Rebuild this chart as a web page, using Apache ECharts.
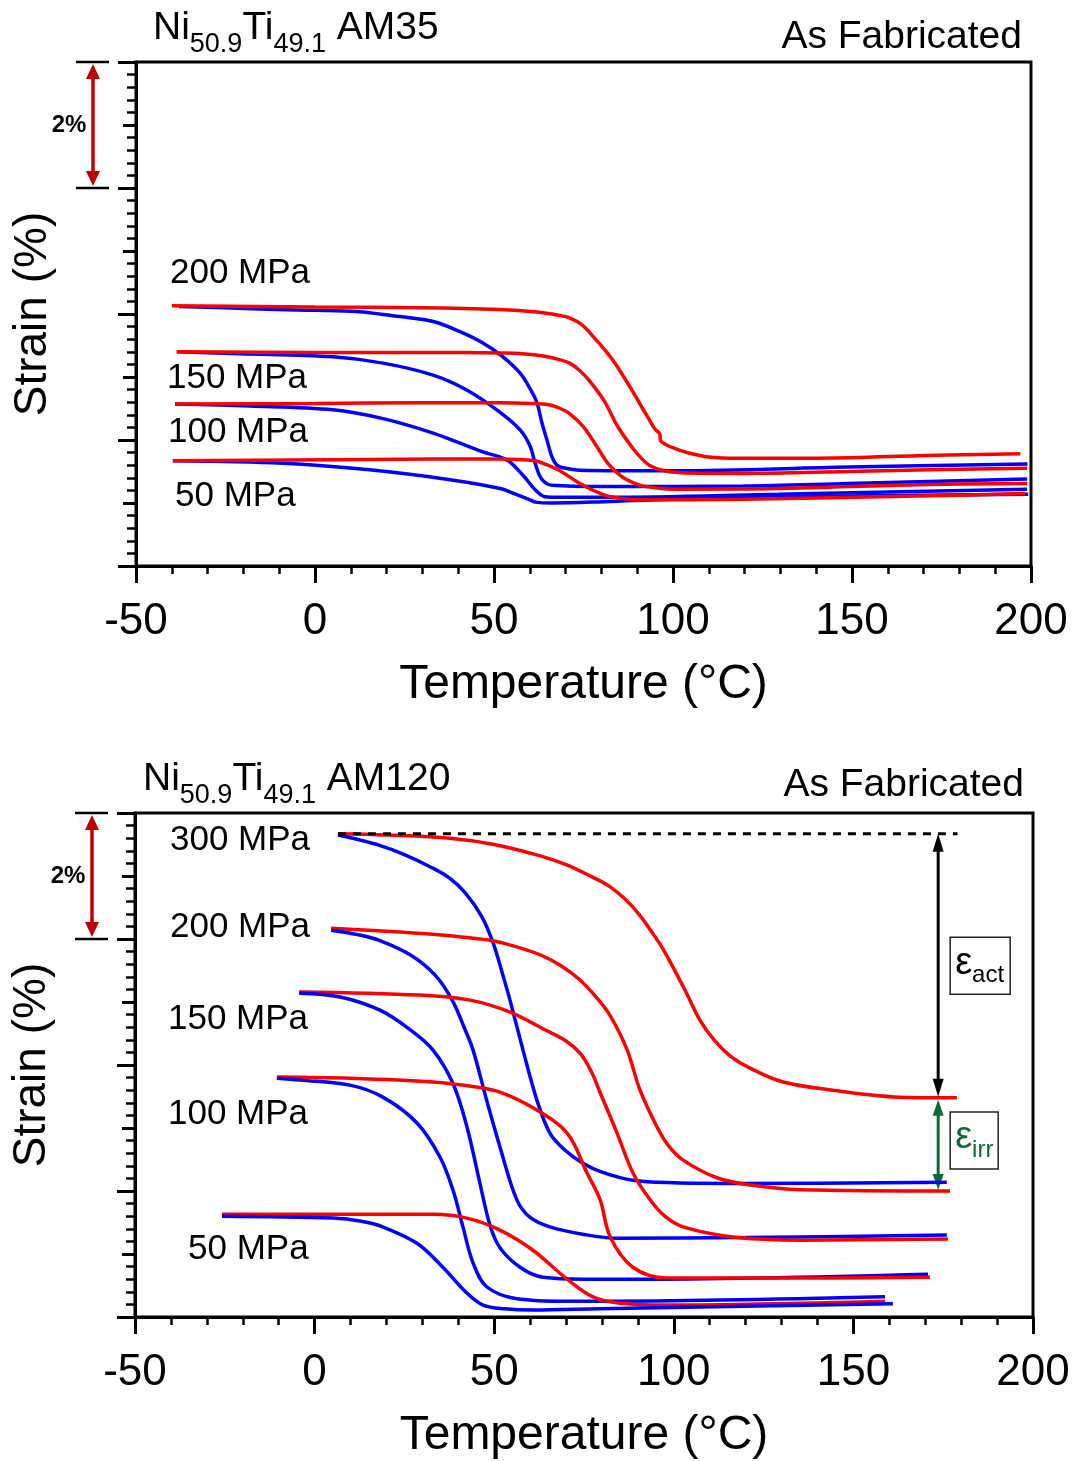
<!DOCTYPE html>
<html>
<head>
<meta charset="utf-8">
<script src="https://cdn.jsdelivr.net/npm/echarts@6/dist/echarts.min.js"></script>
<style>
  html, body { margin: 0; padding: 0; background: #fff; }
  #chart { width: 1078px; height: 1461px; }
</style>
</head>
<body>
<div id="chart"></div>
<script>
const FONT = '"Liberation Sans", Arial, sans-serif';

// Shared axis scales
const xTicks = [-50, 0, 50, 100, 150, 200];
const strainMax = 8;
const scaleBar = 2;            // % span of the scale bracket

// ---- Ni50.9Ti49.1 AM35: [temperature °C, strain %] ----
const am35Heat200 = [[-40,4.13],[0,4.11],[30,4.10],[51.7,4.07],[62,4.03],[68,3.98],[71.1,3.94],[74.5,3.83],[77.9,3.63],[80.8,3.44],[83.8,3.22],[86.7,2.96],[89.6,2.69],[91.5,2.50],[93.4,2.32],[95,2.17],[96.3,2.10],[96.5,1.99],[98,1.93],[100.3,1.87],[104,1.80],[110,1.73],[118,1.71],[129.3,1.71],[150,1.72],[168.2,1.75],[185,1.77],[197,1.78]];
const am35Cool200 = [[-38,4.12],[-25,4.10],[-10.6,4.07],[0,4.06],[11.7,4.04],[18,4.00],[23.7,3.96],[33,3.88],[40.5,3.72],[46.9,3.54],[52.5,3.32],[57.3,3.06],[60.3,2.79],[62,2.59],[63.4,2.27],[64.8,2.00],[66.2,1.73],[67.6,1.60],[69.3,1.56],[74,1.52],[100.3,1.51],[148.9,1.57],[199,1.62]];
const am35Heat150 = [[-38.6,3.40],[0,3.39],[30,3.39],[51.7,3.38],[58,3.37],[64.2,3.33],[68,3.28],[71.1,3.22],[74,3.10],[76.8,2.93],[80.7,2.63],[84.6,2.21],[88.5,1.89],[91,1.72],[93.4,1.60],[97,1.52],[102.2,1.48],[119.6,1.47],[148.9,1.50],[175,1.53],[198.9,1.55]];
const am35Cool150 = [[-38.6,3.40],[-20.9,3.37],[5,3.32],[19,3.22],[33,3.03],[42.5,2.79],[51.7,2.44],[57.3,2.16],[60.1,1.90],[61.5,1.63],[63.3,1.38],[66.2,1.28],[80.7,1.26],[119.6,1.27],[148.9,1.31],[198.9,1.38]];
const am35Heat100 = [[-39.1,2.57],[0,2.58],[30,2.59],[51.7,2.59],[60,2.58],[65.3,2.56],[68.5,2.50],[71.1,2.42],[75,2.21],[78.8,1.89],[81.8,1.63],[85.7,1.42],[89,1.32],[92.5,1.26],[100.3,1.22],[129.3,1.23],[168.2,1.29],[198.9,1.31]];
const am35Cool100 = [[-39.1,2.57],[-18.2,2.54],[5,2.48],[19,2.34],[33,2.11],[46.9,1.81],[51.7,1.73],[54.5,1.65],[58.4,1.42],[61.5,1.21],[64.2,1.10],[68,1.09],[80.7,1.09],[129.3,1.14],[198.9,1.22]];
const am35Heat50 = [[-39.7,1.67],[14.5,1.69],[51.7,1.70],[61.5,1.67],[65,1.60],[68.2,1.52],[74,1.31],[80.7,1.13],[85,1.08],[90.5,1.05],[119.6,1.06],[168.2,1.11],[198.3,1.15]];
const am35Cool50 = [[-39.7,1.67],[-8.9,1.63],[14.5,1.53],[37.7,1.37],[51.7,1.23],[56,1.14],[59.2,1.07],[62,1.01],[66,1.00],[80.7,1.02],[100.3,1.06],[148.9,1.11],[199.2,1.14]];

// ---- Ni50.9Ti49.1 AM120 ----
const am120Heat300 = [[6.5,7.67],[20,7.65],[37.7,7.60],[50,7.50],[62.8,7.32],[70,7.18],[77.1,6.99],[82,6.84],[86.5,6.63],[90.5,6.38],[94,6.10],[97.1,5.83],[103.1,5.19],[107.3,4.71],[111.5,4.38],[116,4.13],[121.2,3.95],[130.4,3.73],[144.3,3.60],[163,3.49],[178.8,3.48]];
const am120Cool300 = [[6.5,7.65],[12,7.58],[17.9,7.49],[25,7.34],[32.4,7.14],[37.5,6.97],[42,6.73],[46.5,6.36],[49.7,5.94],[52.2,5.47],[54.4,5.03],[58,4.24],[61.9,3.44],[65.5,2.92],[69.5,2.66],[74.7,2.44],[80,2.30],[88.6,2.17],[100,2.13],[116.4,2.12],[176,2.14]];
const am120Heat200 = [[4.6,6.17],[23.8,6.11],[37.7,6.05],[48.8,5.98],[56,5.88],[62.8,5.75],[68.5,5.58],[73.9,5.35],[78.5,5.07],[82.2,4.79],[87,4.24],[90.6,3.60],[95.3,3.02],[98.5,2.72],[102.6,2.49],[112,2.21],[122,2.09],[135.2,2.02],[176.9,2.00]];
const am120Cool200 = [[4.6,6.14],[12,6.07],[18,5.98],[26.6,5.75],[33.5,5.43],[38.3,5.03],[41.9,4.56],[44.1,4.24],[47.9,3.44],[51.6,2.70],[56.3,1.86],[60,1.58],[65.5,1.43],[75,1.31],[84.2,1.25],[120,1.26],[176,1.30]];
const am120Heat150 = [[-4.3,5.16],[29.3,5.11],[43.3,5.03],[54.4,4.84],[64.1,4.56],[70,4.38],[74,4.18],[77,3.90],[79.5,3.56],[84.2,2.92],[88.6,2.29],[93.4,1.86],[97.5,1.60],[102.6,1.43],[116.5,1.27],[135.2,1.22],[176.3,1.24]];
const am120Cool150 = [[-4.3,5.14],[7.1,5.08],[18.2,4.87],[26.6,4.56],[32.9,4.24],[38.5,3.71],[42.4,3.02],[46,2.13],[48.8,1.46],[51.6,1.10],[57.2,0.79],[63.6,0.63],[75,0.60],[88.6,0.60],[170.8,0.68]];
const am120Heat100 = [[-10.5,3.81],[10,3.79],[33,3.73],[45,3.65],[51.6,3.57],[60.8,3.32],[70.3,2.92],[75.8,2.29],[79.5,1.86],[82.3,1.27],[88.6,0.79],[98.1,0.62],[144.3,0.62],[171.3,0.63]];
const am120Cool100 = [[-10.5,3.79],[-4.1,3.76],[9.8,3.68],[19,3.49],[28.5,3.08],[34.9,2.54],[38.5,2.02],[41.3,1.43],[44.1,0.86],[47.9,0.48],[56.3,0.29],[70.3,0.25],[79.5,0.25],[158.8,0.32]];
const am120Heat50 = [[-25.8,1.63],[0,1.63],[33,1.63],[42.4,1.57],[51.6,1.38],[60.8,1.06],[70.3,0.60],[77.5,0.32],[85,0.22],[98.1,0.19],[158.8,0.25]];
const am120Cool50 = [[-25.8,1.60],[5.1,1.57],[13,1.52],[19,1.43],[28.5,1.17],[35.7,0.79],[42.4,0.38],[46.9,0.19],[53,0.13],[60.8,0.11],[79.5,0.13],[161,0.21]];

// Actuation / irrecoverable strain markers (AM120, 300 MPa cycle)
const actTemp = 173.6;
const dashEndTemp = 179;
const actTop = am120Heat300[0][1];
const actBottom = am120Heat300[am120Heat300.length - 1][1];
const irrBottom = am120Heat200[am120Heat200.length - 1][1];

const RED = '#ff0000', BLUE = '#0000ff', DARKRED = '#c00000', GREEN = '#0b6b36';

const chart = echarts.init(document.getElementById('chart'));

function xAxisFor(gridIndex) {
  return {
    type: 'value', gridIndex,
    min: xTicks[0], max: xTicks[xTicks.length - 1], interval: xTicks[1] - xTicks[0],
    axisLine: { show: true, onZero: false, lineStyle: { color: '#000', width: 3 } },
    axisTick: { show: true, inside: false, length: 17, lineStyle: { color: '#000', width: 3 } },
    minorTick: { show: true, splitNumber: 5, length: 8, lineStyle: { color: '#000', width: 2.5 } },
    splitLine: { show: false }, minorSplitLine: { show: false },
    axisLabel: { show: true, fontSize: 44, color: '#000', fontFamily: FONT, margin: 34 },
    name: 'Temperature (°C)', nameLocation: 'middle', nameGap: 95,
    nameTextStyle: { fontSize: 48, color: '#000', fontFamily: FONT }
  };
}
function yAxesFor(gridIndex) {
  return [{
    type: 'value', gridIndex, min: 0, max: strainMax, interval: 1,
    axisLine: { show: true, onZero: false, lineStyle: { color: '#000', width: 3 } },
    axisTick: { show: true, inside: false, length: 13, lineStyle: { color: '#000', width: 3 } },
    minorTick: { show: true, splitNumber: 5, length: 9, lineStyle: { color: '#000', width: 2.5 } },
    splitLine: { show: false }, minorSplitLine: { show: false },
    axisLabel: { show: false },
    name: 'Strain (%)', nameLocation: 'middle', nameGap: 80,
    nameTextStyle: { fontSize: 46, color: '#000', fontFamily: FONT }
  }, {
    type: 'value', gridIndex, min: 0, max: strainMax, interval: 2, position: 'left', offset: 0,
    axisLine: { show: false, onZero: false },
    axisTick: { show: true, inside: false, length: 18, lineStyle: { color: '#000', width: 3 } },
    splitLine: { show: false }, axisLabel: { show: false }
  }];
}
function curve(data, color, panel) {
  return {
    type: 'line', data, xAxisIndex: panel, yAxisIndex: panel * 2,
    showSymbol: false, symbol: 'none', smooth: 0.35,
    lineStyle: { color, width: 3.5 }, itemStyle: { color },
    silent: true, animation: false
  };
}

chart.setOption({
  animation: false,
  grid: [
    { left: 136, top: 62, width: 895, height: 504, containLabel: false, show: true, borderColor: '#000', borderWidth: 3 },
    { left: 135, top: 813, width: 898, height: 504, containLabel: false, show: true, borderColor: '#000', borderWidth: 3 }
  ],
  xAxis: [xAxisFor(0), xAxisFor(1)],
  yAxis: [...yAxesFor(0), ...yAxesFor(1)],
  series: [
    curve(am35Cool200, BLUE, 0), curve(am35Heat200, RED, 0),
    curve(am35Cool150, BLUE, 0), curve(am35Heat150, RED, 0),
    curve(am35Cool100, BLUE, 0), curve(am35Heat100, RED, 0),
    curve(am35Cool50, BLUE, 0), curve(am35Heat50, RED, 0),
    curve(am120Heat300, RED, 1), curve(am120Cool300, BLUE, 1),
    curve(am120Heat200, RED, 1), curve(am120Cool200, BLUE, 1),
    curve(am120Heat150, RED, 1), curve(am120Cool150, BLUE, 1),
    curve(am120Heat100, RED, 1), curve(am120Cool100, BLUE, 1),
    curve(am120Heat50, RED, 1), curve(am120Cool50, BLUE, 1),
    {
      type: 'line', xAxisIndex: 1, yAxisIndex: 2, showSymbol: false, symbol: 'none',
      data: [[am120Heat300[0][0], actTop], [dashEndTemp, actTop]],
      lineStyle: { color: '#000', width: 3, type: [8, 7] }, z: 3, silent: true
    }
  ]
});

// ---- annotations placed from data coordinates ----
const px = (panel, v) => chart.convertToPixel({ xAxisIndex: panel, yAxisIndex: panel * 2 }, v);

function vArrow(x, yTop, yBot, color, width, headW, headH) {
  return [
    { type: 'line', shape: { x1: x, y1: yTop + headH * 0.7, x2: x, y2: yBot - headH * 0.7 },
      style: { stroke: color, lineWidth: width }, silent: true },
    { type: 'polygon', shape: { points: [[x, yTop], [x - headW / 2, yTop + headH], [x + headW / 2, yTop + headH]] },
      style: { fill: color }, silent: true },
    { type: 'polygon', shape: { points: [[x, yBot], [x - headW / 2, yBot - headH], [x + headW / 2, yBot - headH]] },
      style: { fill: color }, silent: true }
  ];
}

const graphics = [];
const titles = [];
const titleRich = {
  a: { fontSize: 39, lineHeight: 40, verticalAlign: 'top', fontFamily: FONT, color: '#000', fontWeight: 'normal' },
  s: { fontSize: 27, lineHeight: 27, padding: [22, 0, 0, 0], verticalAlign: 'top', fontFamily: FONT, color: '#000', fontWeight: 'normal' }
};
const panelTitles = ['{a|Ni}{s|50.9}{a|Ti}{s|49.1}{a| AM35}', '{a|Ni}{s|50.9}{a|Ti}{s|49.1}{a| AM120}'];
const curveLabels = [
  [['200 MPa', 170, 273], ['150 MPa', 167, 378], ['100 MPa', 168, 432], ['50 MPa', 175, 496]],
  [['300 MPa', 170, 840], ['200 MPa', 170, 927], ['150 MPa', 168, 1019], ['100 MPa', 168, 1114], ['50 MPa', 188, 1249]]
];

[0, 1].forEach(panel => {
  const top = px(panel, [xTicks[0], strainMax]);
  const low = px(panel, [xTicks[0], strainMax - scaleBar]);
  const ax = top[0];
  // 2% scale bracket
  [top[1], low[1]].forEach(y => graphics.push({
    type: 'line', shape: { x1: ax - 60, y1: y, x2: ax - 27, y2: y },
    style: { stroke: '#000', lineWidth: 2.5 }, silent: true
  }));
  graphics.push(...vArrow(ax - 43, top[1] + 2, low[1] - 2, DARKRED, 3.5, 14, 15));
  graphics.push({
    type: 'text', x: ax - 67, y: (top[1] + low[1]) / 2,
    style: { text: scaleBar + '%', fontSize: 24, fontWeight: 'bold', fontFamily: FONT, fill: '#000', align: 'center', verticalAlign: 'middle' },
    silent: true
  });
  // load labels
  curveLabels[panel].forEach(([t, x, y]) => graphics.push({
    type: 'text', x, y,
    style: { text: t, fontSize: 35, fontFamily: FONT, fill: '#000', align: 'left', verticalAlign: 'middle' },
    silent: true
  }));
  // headings
  titles.push({
    text: panelTitles[panel], left: panel ? 143 : 153, top: panel ? 760 : 9, padding: 0,
    textStyle: { rich: titleRich }
  });
  titles.push({
    text: 'As Fabricated', right: panel ? 54 : 56, top: panel ? 765 : 17, padding: 0,
    textStyle: { fontSize: 39, lineHeight: 40, fontFamily: FONT, color: '#000', fontWeight: 'normal' }
  });
});

// ε_act and ε_irr arrows with boxed labels
const pA = px(1, [actTemp, actTop]);
const pB = px(1, [actTemp, actBottom]);
const pC = px(1, [actTemp, irrBottom]);
graphics.push(...vArrow(pA[0], pA[1], pB[1] - 1, '#000', 3, 11, 18));
graphics.push(...vArrow(pA[0], pB[1] + 2, pC[1] - 1, GREEN, 3, 11, 16));

const boxes = [
  { sub: 'act', color: '#000', yMid: (pA[1] + pB[1]) / 2, w: 60, h: 57 },
  { sub: 'irr', color: GREEN, yMid: (pB[1] + pC[1]) / 2 - 4, w: 48, h: 57 }
];
boxes.forEach(b => {
  const bx = pA[0] + 12, by = b.yMid - b.h / 2;
  graphics.push({
    type: 'rect', shape: { x: bx, y: by, width: b.w, height: b.h },
    style: { fill: '#fff', stroke: '#222', lineWidth: 1.5 }, z: 10, silent: true
  });
  titles.push({
    text: '{e|ε}{s|' + b.sub + '}', left: bx + 5, top: by + 7, padding: 0, z: 12,
    textStyle: {
      rich: {
        e: { fontSize: 38, lineHeight: 38, verticalAlign: 'top', fontFamily: FONT, color: b.color, fontWeight: 'normal' },
        s: { fontSize: 24, lineHeight: 24, padding: [19, 0, 0, 0], verticalAlign: 'top', fontFamily: FONT, color: b.color, fontWeight: 'normal' }
      }
    }
  });
});

chart.setOption({ title: titles, graphic: graphics });
</script>
</body>
</html>
